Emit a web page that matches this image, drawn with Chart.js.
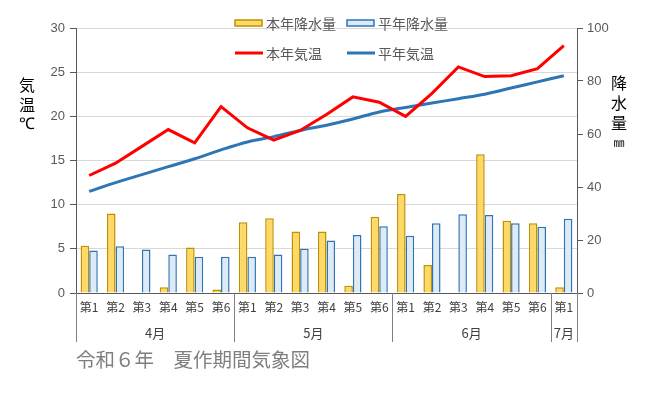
<!DOCTYPE html>
<html>
<head>
<meta charset="utf-8">
<script src="https://cdn.jsdelivr.net/npm/chart.js@4"></script>
<style>
  body { margin: 0; background: #fff; }
  #wrap { width: 650px; height: 395px; }
</style>
</head>
<body>
<div id="wrap"><canvas id="weatherChart" width="650" height="395"></canvas></div>
<script>
// 半旬 labels and month groups
const weeks = ['第1','第2','第3','第4','第5','第6','第1','第2','第3','第4','第5','第6','第1','第2','第3','第4','第5','第6','第1'];
const months = ['4月', '5月', '6月', '7月'];
const monthCounts = [6, 6, 6, 1];

// precipitation (mm)
const rainThisYear = [17.8, 30.0, 0, 2.2, 17.2, 1.3, 26.7, 28.2, 23.2, 23.2, 2.7, 28.8, 37.4, 10.6, 0, 52.4, 27.3, 26.3, 2.2];
const rainNormal = [16.0, 17.6, 16.4, 14.5, 13.7, 13.7, 13.7, 14.5, 16.7, 19.8, 21.9, 25.2, 21.6, 26.3, 29.7, 29.4, 26.3, 25.0, 28.0];

// temperature (°C)
const tempThisYear = [13.3, 14.7, 16.6, 18.5, 17.0, 21.1, 18.7, 17.3, 18.4, 20.2, 22.2, 21.6, 20.0, 22.6, 25.6, 24.5, 24.6, 25.4, 28.0];
const tempNormal = [11.5, 12.5, 13.4, 14.3, 15.2, 16.2, 17.1, 17.7, 18.4, 19.0, 19.7, 20.5, 21.0, 21.5, 22.0, 22.5, 23.2, 23.9, 24.6];

const tickFont = { family: "'Liberation Sans', 'Noto Sans CJK JP', sans-serif", size: 13 };
const jpFont = "'Noto Sans CJK JP', sans-serif";

const extras = {
    id: 'extras',
    afterDraw(chart) {
        const c = chart.ctx;
        const x = chart.scales.x;
        const area = chart.chartArea;
        c.save();

        // month separators and group labels
        c.strokeStyle = '#808080';
        c.lineWidth = 1;
        const sepBottom = 342;
        let start = 0;
        const edges = [area.left];
        monthCounts.forEach((n, i) => {
            const end = start + n;
            const right = end < weeks.length
                ? (x.getPixelForValue(end - 1) + x.getPixelForValue(end)) / 2
                : area.right;
            edges.push(right);
            const left = edges[i];
            c.fillStyle = '#404040';
            c.font = '13px ' + jpFont;
            c.textAlign = 'center';
            c.textBaseline = 'middle';
            c.fillText(months[i], (left + right) / 2, 333);
            start = end;
        });
        edges.forEach(ex => {
            c.beginPath();
            c.moveTo(Math.round(ex) + 0.5, area.bottom);
            c.lineTo(Math.round(ex) + 0.5, sepBottom);
            c.stroke();
        });

        // axis titles
        c.fillStyle = '#000';
        c.font = '16px ' + jpFont;
        c.textAlign = 'center';
        c.textBaseline = 'middle';
        c.fillText('気', 27, 85);
        c.fillText('温', 27, 105);
        c.font = '16px ' + "'Liberation Sans', sans-serif";
        c.fillText('℃', 27, 125);
        c.font = '16px ' + jpFont;
        c.fillText('降', 619, 83);
        c.fillText('水', 619, 103);
        c.fillText('量', 619, 123);
        c.font = '11px ' + jpFont;
        c.fillText('㎜', 619, 143);

        // legend
        const ds = chart.data.datasets;
        const items = [
            { d: ds[2], x: 235, y: 23, bar: true },
            { d: ds[3], x: 347, y: 23, bar: true },
            { d: ds[0], x: 235, y: 53, bar: false },
            { d: ds[1], x: 347, y: 53, bar: false }
        ];
        items.forEach(it => {
            if (it.bar) {
                c.fillStyle = it.d.backgroundColor;
                c.strokeStyle = it.d.borderColor;
                c.lineWidth = 1.5;
                c.fillRect(it.x, it.y - 3, 27, 6);
                c.strokeRect(it.x, it.y - 3, 27, 6);
            } else {
                c.strokeStyle = it.d.borderColor;
                c.lineWidth = 3;
                c.beginPath();
                c.moveTo(it.x, it.y);
                c.lineTo(it.x + 28, it.y);
                c.stroke();
            }
            c.fillStyle = '#595959';
            c.font = '14px ' + jpFont;
            c.textAlign = 'left';
            c.textBaseline = 'middle';
            c.fillText(it.d.label, it.x + 31, it.y + 1);
        });

        // chart title
        c.fillStyle = '#7f7f7f';
        c.font = '19.5px ' + jpFont;
        c.textAlign = 'left';
        c.textBaseline = 'middle';
        c.fillText('令和６年　夏作期間気象図', 76, 360);

        c.restore();
    }
};

new Chart(document.getElementById('weatherChart').getContext('2d'), {
    type: 'bar',
    data: {
        labels: weeks,
        datasets: [
            {
                type: 'line',
                label: '本年気温',
                data: tempThisYear,
                yAxisID: 'y',
                borderColor: '#ff0000',
                borderWidth: 3,
                pointRadius: 0,
                fill: false,
                tension: 0,
                order: 0
            },
            {
                type: 'line',
                label: '平年気温',
                data: tempNormal,
                yAxisID: 'y',
                borderColor: '#2e75b6',
                borderWidth: 3,
                pointRadius: 0,
                fill: false,
                tension: 0.3,
                order: 1
            },
            {
                label: '本年降水量',
                data: rainThisYear,
                yAxisID: 'y1',
                backgroundColor: '#ffd966',
                borderColor: '#bf9000',
                borderWidth: 1.5,
                barPercentage: 1,
                categoryPercentage: 0.65,
                order: 2
            },
            {
                label: '平年降水量',
                data: rainNormal,
                yAxisID: 'y1',
                backgroundColor: '#deebf7',
                borderColor: '#2e75b6',
                borderWidth: 1.5,
                barPercentage: 1,
                categoryPercentage: 0.65,
                order: 2
            }
        ]
    },
    options: {
        responsive: false,
        animation: false,
        layout: { padding: { top: 28, left: 0, right: 0, bottom: 0 } },
        plugins: { legend: { display: false }, tooltip: { enabled: false } },
        scales: {
            x: {
                grid: { display: false, drawTicks: false },
                border: { color: '#595959', width: 1 },
                ticks: { color: '#404040', font: { family: jpFont, size: 12 }, padding: 7, maxRotation: 0, autoSkip: false },
                afterFit: s => { s.height = 102; }
            },
            y: {
                position: 'left',
                min: 0,
                max: 30,
                ticks: { stepSize: 5, color: '#595959', font: tickFont, padding: 5 },
                grid: {
                    color: ctx => ctx.tick && ctx.tick.value === 0 ? '#595959' : '#d9d9d9',
                    tickColor: '#595959',
                    tickLength: 6,
                    lineWidth: 1
                },
                border: { color: '#595959', width: 1 },
                afterFit: s => { s.width = 76; }
            },
            y1: {
                position: 'right',
                min: 0,
                max: 100,
                ticks: { stepSize: 20, color: '#595959', font: tickFont, padding: 4 },
                grid: { drawOnChartArea: false, tickColor: '#595959', tickLength: 6 },
                border: { color: '#595959', width: 1 },
                afterFit: s => { s.width = 73; }
            }
        }
    },
    plugins: [extras]
});
</script>
</body>
</html>
